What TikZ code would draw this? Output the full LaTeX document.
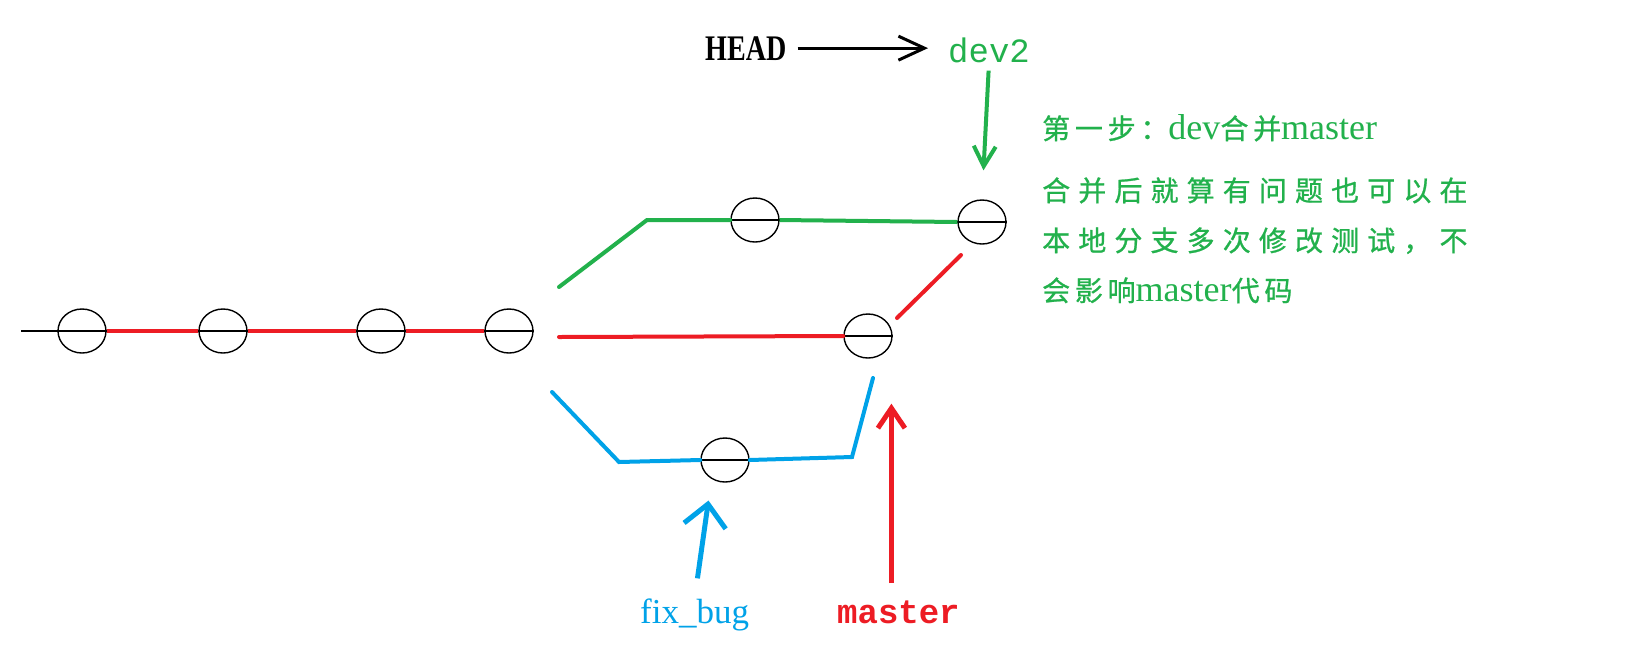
\documentclass[tikz,border=0pt]{standalone}
\usepackage{fontspec}
\setmainfont{Liberation Serif}
\setmonofont{Liberation Mono}
\newfontfamily\cjk[LetterSpace=17,FakeBold=0.8]{Noto Sans CJK SC}
\newfontfamily\cjkwide[LetterSpace=29,FakeBold=0.8]{Noto Sans CJK SC}
\usepackage{graphicx}
\usepackage{tikz}
\usetikzlibrary{shapes.geometric,arrows.meta,positioning}
\definecolor{gitred}{RGB}{237,28,36}
\definecolor{gitgreen}{RGB}{34,177,76}
\definecolor{gitblue}{RGB}{0,162,232}
\newcommand{\zh}[1]{{\cjk\fontsize{28}{50}\selectfont #1}}
\newcommand{\zhw}[1]{{\cjkwide\fontsize{28}{50}\selectfont #1}}

\begin{document}
\begin{tikzpicture}[x=1pt,y=-1pt,
  commit/.style={draw,ellipse,line width=1.4pt,minimum width=48pt,minimum height=44pt,inner sep=0pt},
  branch/.style={line width=4pt},
  label/.style={anchor=base west,inner sep=0pt},
  note/.style={label,text=gitgreen,font=\fontsize{36}{50}\selectfont}]
\fill[white] (0,0) rectangle (1627,657);
\useasboundingbox (0,0) rectangle (1627,657);

% commits
\node[commit] (c1) at (82,331) {};
\node[commit] (c2) at (223,331) {};
\node[commit] (c3) at (381,331) {};
\node[commit] (c4) at (509,331) {};
\node[commit] (c5) at (755,220) {};
\node[commit] (c6) at (982,222) {};
\node[commit] (c7) at (868,336) {};
\node[commit] (c8) at (725,460) {};
\foreach \c in {c1,c2,c3,c4,c5,c6,c7,c8}
  \draw[line width=1.2pt] (\c.west) -- (\c.east);

% master line
\coordinate (start) at (21,331);
\draw[line width=1.4pt] (start) -- (c1.west);
\draw[branch,gitred] (c1.east) -- (c2.west);
\draw[branch,gitred] (c2.east) -- (c3.west);
\draw[branch,gitred] (c3.east) -- (c4.west);

% dev2
\coordinate (g0) at (559,287);
\coordinate (g1) at (647,220);
\draw[branch,gitgreen,line cap=round] (g0) -- (g1) -- (c5.west);
\draw[branch,gitgreen] (c5.east) -- (c6.west);

% master after merge
\coordinate (r0) at (559,337);
\coordinate (r1) at (897,318);
\coordinate (r2) at (961,255);
\draw[branch,gitred,line cap=round] (r0) -- (c7.west);
\draw[branch,gitred,line cap=round] (r1) -- (r2);

% fix_bug
\coordinate (b0) at (552,392);
\coordinate (b1) at (619,462);
\coordinate (b2) at (852,457);
\coordinate (b3) at (873,378);
\draw[branch,gitblue,line cap=round] (b0) -- (b1) -- (c8.west);
\draw[branch,gitblue,line cap=round] (c8.east) -- (b2) -- (b3);

% labels
\node[label,font=\bfseries\fontsize{36}{36}\selectfont] (head) at (705,60) {\scalebox{0.78}[1]{HEAD}};
\node[label,font=\ttfamily\fontsize{34}{34}\selectfont,text=gitgreen] (dev2) at (948,62) {dev2};
\node[label,font=\fontsize{35}{35}\selectfont,text=gitblue] (fixbug) at (640,623) {fix\_bug};
\node[label,font=\ttfamily\bfseries\fontsize{34}{34}\selectfont,text=gitred] (master) at (837,623) {master};

\draw[line width=3pt,-{Straight Barb[length=26pt,width=24pt]},shorten <=11pt,shorten >=20pt]
  (head.east) -- (head.east -| dev2.west);
\draw[gitgreen,line width=4pt,-{Straight Barb[length=20pt,width=22pt]},shorten <=8pt,shorten >=29pt]
  (dev2.south) -- (c6.north);
\draw[gitblue,line width=5pt,-{Straight Barb[length=22pt,width=42pt]},shorten <=20pt,shorten >=18pt]
  (fixbug.north) -- ([xshift=-14pt]c8.south);
\draw[gitred,line width=5pt,-{Straight Barb[length=20pt,width=27pt]},shorten <=17pt,shorten >=45pt]
  ([xshift=-7pt]master.north) -- ([xshift=-7pt]master.north |- c7.south);

% note
\node[note] (step) at (1042,139) {\zh{第一步：}dev\zh{合并}master};
\node[note] (note1) at (1042,201) {\zhw{合并后就算有问题也可以在}};
\node[note] (note2) at (1042,251) {\zhw{本地分支多次修改测试，不}};
\node[note] (note3) at (1042,301) {\zh{会影响}master\zh{代码}};
\end{tikzpicture}
\end{document}
